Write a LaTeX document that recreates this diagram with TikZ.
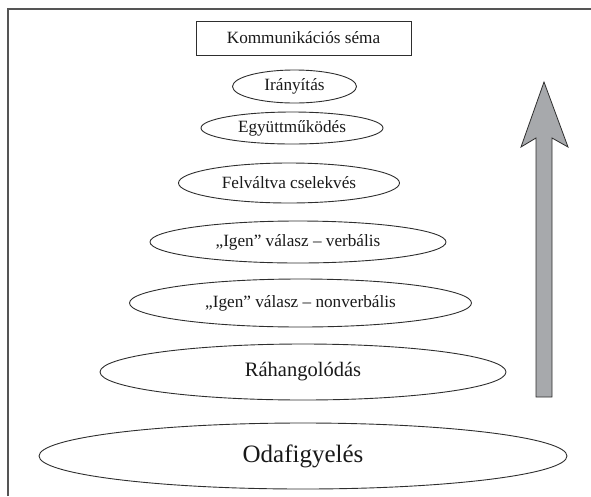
\documentclass[tikz,border=0pt]{standalone}
\usepackage{fontspec}
\setmainfont{Liberation Serif}
\usetikzlibrary{shapes.geometric}
\definecolor{linec}{HTML}{2E2E2E}
\definecolor{framec}{HTML}{555555}
\definecolor{arrowfill}{HTML}{A7A9AC}
\newcommand{\zw}[1]{\makebox[0pt]{#1}}
\tikzset{
  oval/.style={ellipse, draw=linec, line width=0.9pt, inner sep=0pt, text=black!90},
  titlebox/.style={rectangle, draw=linec, line width=0.9pt, inner sep=0pt, text=black!90},
  smalltxt/.style={font=\fontsize{17.2}{19}\selectfont},
}
\begin{document}
\begin{tikzpicture}[x=1pt,y=-1pt]
\useasboundingbox (0,0) rectangle (591,496);
% frame (only top and left edges visible)
\draw[framec, line width=1.6pt] (8,496) -- (8,9) -- (591,9);
% title box
\node[titlebox, smalltxt, minimum width=215pt, minimum height=34pt] (kom) at (303.5,38) {\zw{Kommunikációs séma}};
% ellipses
\node[oval, smalltxt, minimum width=124pt, minimum height=33pt] (iranyitas) at (294.5,86.5) {\zw{Irányítás}};
\node[oval, smalltxt, minimum width=182pt, minimum height=32pt] (egyutt) at (292,128) {\zw{Együttműködés}};
\node[oval, smalltxt, minimum width=221pt, minimum height=40pt] (felv) at (289,183) {\zw{Felváltva cselekvés}};
\node[oval, smalltxt, minimum width=296pt, minimum height=42pt] (verb) at (298,242) {\zw{„Igen” válasz – verbális}};
\node[oval, smalltxt, minimum width=342pt, minimum height=48pt] (nonverb) at (300.5,303) {\zw{„Igen” válasz – nonverbális}};
\node[oval, font=\fontsize{20.5}{23}\selectfont, minimum width=406pt, minimum height=56pt] (rahang) at (303,372) {\zw{Ráhangolódás}};
\node[oval, font=\fontsize{25}{28}\selectfont, minimum width=528pt, minimum height=66pt] (oda) at (303,456) {\zw{Odafigyelés}};
% upward arrow
\draw[draw=linec, line width=0.8pt, fill=arrowfill, line join=miter]
  (544,82) -- (568,147) -- (552,138) -- (552,397) -- (536,397) -- (536,138) -- (521,147) -- cycle;
\end{tikzpicture}
\end{document}
